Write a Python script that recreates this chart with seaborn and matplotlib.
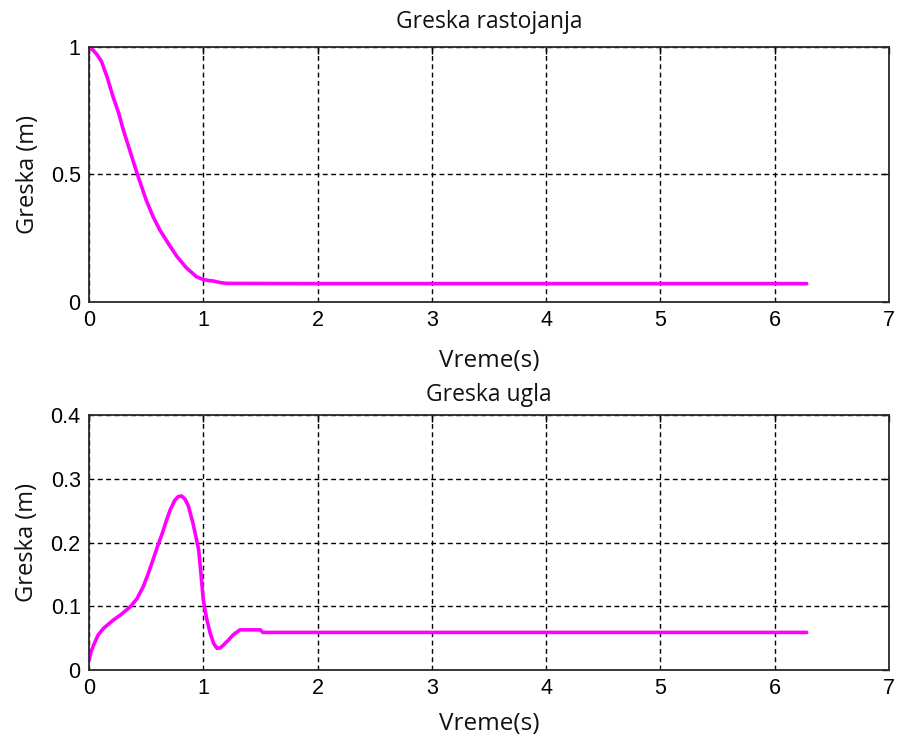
import matplotlib
matplotlib.use("Agg")
import matplotlib.pyplot as plt
import seaborn as sns
import pandas as pd

# Distance error over time
t_dist = [0.0, 0.03, 0.07, 0.11, 0.16, 0.21, 0.26, 0.30, 0.36, 0.42, 0.50, 0.56, 0.62,
          0.70, 0.77, 0.85, 0.94, 1.00, 1.05, 1.09, 1.15, 1.20, 2.0, 3.0, 4.0, 5.0, 6.28]
err_dist = [1.0, 0.99, 0.97, 0.942, 0.88, 0.805, 0.74, 0.675, 0.59, 0.505, 0.40, 0.335, 0.282,
            0.225, 0.178, 0.135, 0.099, 0.088, 0.084, 0.082, 0.076, 0.073, 0.072, 0.072, 0.072, 0.072, 0.072]

# Angle error over time
t_ang = [0.0, 0.02, 0.04, 0.08, 0.125, 0.17, 0.21, 0.28, 0.36, 0.42, 0.475, 0.52, 0.56, 0.60,
         0.64, 0.68, 0.71, 0.75, 0.78, 0.81, 0.84, 0.87, 0.91, 0.94, 0.96, 0.98, 1.00, 1.03,
         1.06, 1.09, 1.12, 1.15, 1.175, 1.22, 1.26, 1.32, 1.50, 1.52, 2.0, 3.0, 4.0, 5.0, 6.28]
err_ang = [0.015, 0.030, 0.039, 0.055, 0.065, 0.072, 0.078, 0.087, 0.099, 0.112, 0.131, 0.152, 0.173, 0.194,
           0.214, 0.236, 0.251, 0.266, 0.272, 0.273, 0.268, 0.257, 0.230, 0.205, 0.188, 0.150, 0.110, 0.080,
           0.058, 0.042, 0.034, 0.035, 0.039, 0.047, 0.055, 0.063, 0.063, 0.059, 0.059, 0.059, 0.059, 0.059, 0.059]

x_ticks = [0, 1, 2, 3, 4, 5, 6, 7]
y_ticks_dist = [0, 0.5, 1]
y_ticks_ang = [0, 0.1, 0.2, 0.3, 0.4]

titles = ["Greska rastojanja", "Greska ugla"]
x_label = "Vreme(s)"
y_label = "Greska (m)"

sns.set_style("white")
plt.rcParams["font.family"] = ["Open Sans", "DejaVu Sans"]

fig = plt.figure(figsize=(9.01, 7.42), dpi=100)
ax1 = fig.add_axes([0.0988, 0.593, 0.8879, 0.3437])
ax2 = fig.add_axes([0.0988, 0.097, 0.8879, 0.3437])

df1 = pd.DataFrame({"t": t_dist, "e": err_dist})
df2 = pd.DataFrame({"t": t_ang, "e": err_ang})

# axis, data, y ticks, y tick labels, y limits, title pad, x-label pad
panels = [
    (ax1, df1, y_ticks_dist, ["0", "0.5", "1"], (0, 1), 14, 13),
    (ax2, df2, y_ticks_ang, ["0", "0.1", "0.2", "0.3", "0.4"], (0, 0.4), 10, 9),
]

tick_font = {"family": ["Liberation Sans", "DejaVu Sans"], "size": 15.5}

for (ax, df, yt, ytl, ylim, tpad, xpad), title in zip(panels, titles):
    sns.lineplot(data=df, x="t", y="e", ax=ax, color="#ff00ff", linewidth=2.6)
    ax.set_xlim(0, 7)
    ax.set_ylim(*ylim)
    ax.set_xticks(x_ticks)
    ax.set_xticklabels([str(v) for v in x_ticks], fontdict=tick_font)
    ax.set_yticks(yt)
    ax.set_yticklabels(ytl, fontdict=tick_font)
    ax.grid(True, color="black", linestyle=(0, (3.5, 2.5)), linewidth=1.0)
    ax.set_axisbelow(True)
    for s in ax.spines.values():
        s.set_color("#2a2a2a")
        s.set_linewidth(1.3)
        s.set_visible(True)
    ax.tick_params(axis="both", direction="in", length=5, width=1,
                   top=True, right=True, colors="black", pad=6)
    ax.set_title(title, fontsize=16.5, pad=tpad, color="#111111")
    ax.set_xlabel(x_label, fontsize=17.5, labelpad=xpad, color="#111111")
    ax.set_ylabel(y_label, fontsize=17, labelpad=8, color="#111111")

fig.savefig("out.png", dpi=100)
